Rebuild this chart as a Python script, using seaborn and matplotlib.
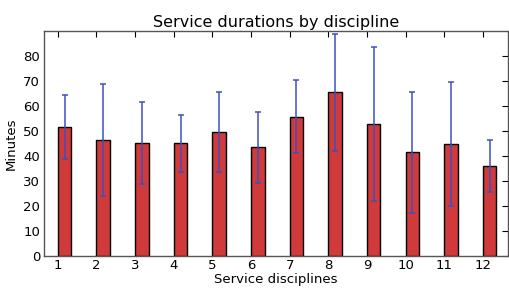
import numpy as np
import pandas as pd
import matplotlib
matplotlib.use("Agg")
import matplotlib.pyplot as plt
import seaborn as sns

disciplines = [1, 2, 3, 4, 5, 6, 7, 8, 9, 10, 11, 12]
means = [51.5, 46.4, 45.3, 45.1, 49.7, 43.6, 55.7, 65.5, 52.8, 41.5, 44.8, 36.0]
errors = [12.8, 22.3, 16.5, 11.5, 16.0, 14.2, 14.6, 23.4, 30.7, 24.2, 24.9, 10.5]
yticks = [0, 10, 20, 30, 40, 50, 60, 70, 80]

sns.set_style("white")
plt.rcParams['font.family'] = ['DejaVu Sans']
plt.rcParams['text.color'] = 'black'
plt.rcParams['axes.labelcolor'] = 'black'
plt.rcParams['xtick.color'] = 'black'
plt.rcParams['ytick.color'] = 'black'

df = pd.DataFrame({"discipline": [str(d) for d in disciplines], "minutes": means})

fig = plt.figure(figsize=(5.09, 2.89), dpi=100)
ax = fig.add_axes([44.3 / 509, 1 - 256 / 289, (508 - 44.3) / 509, (256 - 31) / 289])

width = 0.35
sns.barplot(data=df, x="discipline", y="minutes", color="#d03a3a", saturation=1,
            width=width, edgecolor="black", linewidth=1.0, errorbar=None, ax=ax,
            zorder=2)
pos = np.arange(len(disciplines))
eb = ax.errorbar(pos, means, yerr=errors, fmt="none", ecolor="#3f4fbf",
                 elinewidth=1.1, capsize=2.5, capthick=1.1)
for artist in eb.lines[1] + eb.lines[2]:
    artist.set_zorder(10)
for coll in eb.lines[2]:
    coll.set_zorder(10)

ax.set_xticks(pos - width / 2)
ax.set_xticklabels([str(d) for d in disciplines], fontsize=9.5)
ax.set_xlim(0.65 - 1 - width / 2, 12.65 - 1 - width / 2)
ax.set_ylim(0, 90)
ax.set_yticks(yticks)
ax.set_yticklabels([str(t) for t in yticks], fontsize=9.5)
ax.tick_params(direction="in", top=True, right=True, length=4, width=0.8,
               colors="black", pad=3)
ax.tick_params(axis="x", pad=2)
for s in ax.spines.values():
    s.set_color("#555555")
    s.set_linewidth(1.0)
ax.set_xlabel("Service disciplines", fontsize=9.5, labelpad=1, color="black")
ax.set_ylabel("Minutes", fontsize=9.5, labelpad=4, color="black")
ax.set_title("Service durations by discipline", fontsize=11.5, pad=3, color="black")

fig.savefig("out.png", dpi=100)
